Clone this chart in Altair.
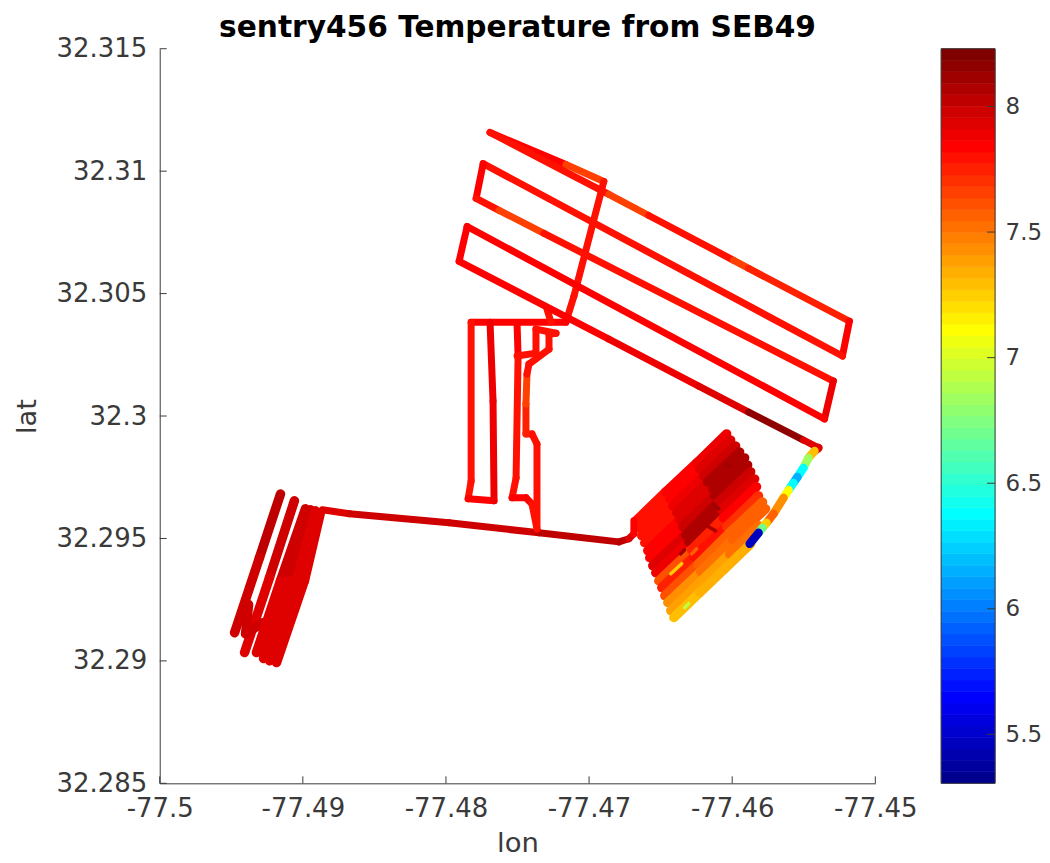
import altair as alt
import numpy as np
import pandas as pd

FONT = "DejaVu Sans"
INK = "#3a3a3a"
T_MIN, T_MAX = 5.305, 8.23

x_ticks = [-77.5, -77.49, -77.48, -77.47, -77.46, -77.45]
y_ticks = [32.285, 32.29, 32.295, 32.3, 32.305, 32.31, 32.315]
bar_ticks = [5.5, 6, 6.5, 7, 7.5, 8]

# survey lawnmower lines (upper right)
survey_lon = [-77.47692, -77.46862, -77.46583, -77.45990, -77.45885, -77.45181, -77.45230, -77.47740, -77.47789, -77.47629,
              -77.47315, -77.45293, -77.45355, -77.47852, -77.47908, -77.46862, -77.46234, -77.45885, -77.45502, -77.45397]
survey_lat = [32.31158, 32.30905, 32.30819, 32.30636, 32.30603, 32.30387, 32.30245, 32.31031, 32.30889, 32.30840,
              32.30746, 32.30143, 32.29988, 32.30774, 32.30632, 32.30314, 32.30122, 32.30016, 32.29902, 32.29870]
survey_temp = [7.8, 7.66, 7.78, 7.64, 7.75, 7.85, 7.8, 7.85, 7.8, 7.66,
               7.78, 7.88, 7.82, 7.85, 7.86, 7.88, 7.92, 8.17, 7.95, 7.9]

# link from the survey to the rectangles
link_lon = [-77.47692, -77.47162, -77.46897, -77.47106, -77.47162, -77.47824, -77.47824, -77.47845, -77.47664, -77.47671, -77.47692]
link_lat = [32.31158, 32.31027, 32.30958, 32.30489, 32.30383, 32.30383, 32.29735, 32.29662, 32.29654, 32.30061, 32.30383]
link_temp = [7.82, 7.65, 7.78, 7.78, 7.85, 7.78, 7.78, 7.85, 7.88, 7.88, 7.88]

second_lon = [-77.47503, -77.47496, -77.47510, -77.47538, -77.47441, -77.47399, -77.47364]
second_lat = [32.30375, 32.30245, 32.29747, 32.29666, 32.29666, 32.29641, 32.29539]
second_temp = [7.82, 7.78, 7.8, 7.82, 7.82, 7.8, 7.8]

hook_lon = [-77.47364, -77.47364, -77.47399, -77.47441, -77.47441, -77.47434, -77.47420, -77.47280, -77.47280, -77.47231,
            -77.47371, -77.47371, -77.47503]
hook_lat = [32.29539, 32.29886, 32.29927, 32.29927, 32.30049, 32.30171, 32.30212, 32.30273, 32.30334, 32.30338,
            32.30355, 32.30257, 32.30245]
hook_temp = [7.8, 7.8, 7.8, 7.75, 7.65, 7.78, 7.78, 7.78, 7.78, 7.8, 7.78, 7.8, 7.8]

spur_lon = [-77.47294, -77.47266]
spur_lat = [32.30436, 32.30383]
spur_temp = [7.8, 7.8]

# dense block, lower right: one list per pass
block_lon = [
    [-77.46673, -77.46464, -77.46248, -77.46039],
    [-77.46652, -77.46436, -77.46227, -77.46011],
    [-77.46632, -77.46415, -77.46199, -77.45976],
    [-77.46611, -77.46387, -77.46171, -77.45948],
    [-77.46590, -77.46367, -77.46136, -77.45913],
    [-77.46576, -77.46346, -77.46123, -77.45892],
    [-77.46555, -77.46325, -77.46102, -77.45871],
    [-77.46534, -77.46304, -77.46074, -77.45843],
    [-77.46513, -77.46283, -77.46060, -77.45830],
    [-77.46492, -77.46269, -77.46039, -77.45816],
    [-77.46471, -77.46241, -77.46018, -77.45788],
    [-77.46450, -77.46220, -77.45997, -77.45767],
    [-77.46429, -77.46227, -77.46018, -77.45816],
    [-77.46408, -77.46227, -77.46053, -77.45871],
]
block_lat = [
    [32.29572, 32.29690, 32.29808, 32.29927],
    [32.29543, 32.29662, 32.29784, 32.29902],
    [32.29511, 32.29633, 32.29755, 32.29878],
    [32.29482, 32.29605, 32.29731, 32.29853],
    [32.29450, 32.29576, 32.29702, 32.29829],
    [32.29421, 32.29548, 32.29674, 32.29800],
    [32.29389, 32.29515, 32.29645, 32.29772],
    [32.29360, 32.29486, 32.29617, 32.29743],
    [32.29327, 32.29454, 32.29584, 32.29711],
    [32.29299, 32.29425, 32.29548, 32.29674],
    [32.29266, 32.29393, 32.29523, 32.29649],
    [32.29238, 32.29364, 32.29495, 32.29621],
    [32.29205, 32.29319, 32.29437, 32.29552],
    [32.29177, 32.29279, 32.29376, 32.29478],
]
block_temp = [
    [7.78, 7.85, 7.9, 7.9],
    [7.78, 7.85, 7.95, 7.95],
    [7.8, 7.88, 8.0, 8.0],
    [7.8, 7.92, 8.05, 8.05],
    [7.85, 7.95, 8.08, 8.08],
    [7.85, 8.0, 8.05, 8.05],
    [7.95, 8.05, 8.0, 8.0],
    [7.9, 8.05, 7.95, 7.95],
    [7.6, 7.75, 7.85, 7.85],
    [7.75, 7.8, 7.72, 7.72],
    [7.6, 7.55, 7.55, 7.55],
    [7.45, 7.5, 7.55, 7.55],
    [7.4, 7.4, 7.5, 7.5],
    [7.3, 7.35, 7.35, 7.35],
]

# short features inside the block
spot_lon = [[-77.46130, -77.46095], [-77.46039, -77.46011], [-77.46360, -77.46332], [-77.46213, -77.46116],
            [-77.46429, -77.46353], [-77.46283, -77.46248], [-77.46332, -77.46304]]
spot_lat = [[32.29641, 32.29621], [32.29804, 32.29792], [32.29437, 32.29454], [32.29564, 32.29531],
            [32.29356, 32.29397], [32.29437, 32.29458], [32.29217, 32.29234]]
spot_temp = [[8.12, 8.12], [8.12, 8.12], [8.1, 8.1], [8.05, 8.05], [7.25, 7.25], [7.55, 7.55], [6.95, 6.95]]

# descent from the survey into the block
descent_lon = [-77.45397, -77.45425, -77.45467, -77.45502, -77.45544, -77.45572, -77.45606, -77.45641, -77.45711, -77.45760,
               -77.45788, -77.45816, -77.45878]
descent_lat = [32.29870, 32.29857, 32.29829, 32.29788, 32.29751, 32.29727, 32.29698, 32.29666, 32.29601, 32.29564,
               32.29543, 32.29523, 32.29478]
descent_temp = [7.95, 7.3, 6.85, 6.4, 6.15, 6.4, 7.1, 7.45, 7.55, 7.25, 6.7, 5.45, 5.45]

# transit between the clusters
transit_lon = [-77.48863, -77.48675, -77.47978, -77.47350, -77.46792, -77.46722, -77.46687, -77.46687]
transit_lat = [32.29617, 32.29601, 32.29564, 32.29523, 32.29486, 32.29499, 32.29519, 32.29572]
transit_temp = [7.92, 7.98, 8.0, 8.02, 8.03, 7.95, 7.85, 7.85]

# western cluster passes
west_lon = [
    [-77.49156, -77.49303, -77.49477],
    [-77.49059, -77.49233, -77.49407],
    [-77.49379, -77.49400, -77.49282],
    [-77.48982, -77.49156, -77.49324],
    [-77.48947, -77.49100, -77.49275],
    [-77.48912, -77.49045, -77.49233],
    [-77.48877, -77.48989, -77.49184],
]
west_lat = [
    [32.29682, 32.29421, 32.29115],
    [32.29654, 32.29340, 32.29034],
    [32.29230, 32.29111, 32.29156],
    [32.29621, 32.29327, 32.29034],
    [32.29617, 32.29327, 32.29010],
    [32.29613, 32.29327, 32.29001],
    [32.29605, 32.29327, 32.28993],
]
west_temp = [
    [8.03, 7.98, 7.98],
    [8.0, 7.95, 7.95],
    [7.98, 7.98, 7.98],
    [7.98, 7.92, 7.92],
    [7.96, 7.93, 7.93],
    [7.95, 7.93, 7.93],
    [7.93, 7.92, 7.92],
]

# MATLAB jet, 64 levels
grid = (np.arange(64) + 1) / 64
channel = lambda c: np.clip(1.5 - np.abs(4 * grid - c), 0, 1)
jet = ["#%02x%02x%02x" % tuple(int(round(v * 255)) for v in rgb)
       for rgb in zip(channel(3), channel(2), channel(1))]
edges = np.linspace(T_MIN, T_MAX, 65)


def segments(lons, lats, temps):
    return [
        {"lon": lons[i], "lat": lats[i], "lon2": lons[i + 1], "lat2": lats[i + 1], "temp": temps[i]}
        for i in range(len(lons) - 1)
    ]


wide_rows = []
for a, b, c in zip(west_lon, west_lat, west_temp):
    wide_rows += segments(a, b, c)
for a, b, c in zip(block_lon, block_lat, block_temp):
    wide_rows += segments(a, b, c)

spot_rows = []
for a, b, c in zip(spot_lon, spot_lat, spot_temp):
    spot_rows += segments(a, b, c)

fine_rows = []
fine_rows += segments(transit_lon, transit_lat, transit_temp)
fine_rows += segments(link_lon, link_lat, link_temp)
fine_rows += segments(second_lon, second_lat, second_temp)
fine_rows += segments(hook_lon, hook_lat, hook_temp)
fine_rows += segments(spur_lon, spur_lat, spur_temp)
fine_rows += segments(survey_lon, survey_lat, survey_temp)

descent_rows = segments(descent_lon, descent_lat, descent_temp)

PW, PH, BW = 717, 736, 54
x_scale = alt.Scale(domain=[-77.5, -77.45], nice=False, zero=False)
y_scale = alt.Scale(domain=[32.285, 32.315], nice=False, zero=False)
c_scale = alt.Scale(type="quantize", domain=[T_MIN, T_MAX], range=jet)
t_scale = alt.Scale(domain=[T_MIN, T_MAX], nice=False, zero=False)

axis_common = dict(
    grid=False, ticks=False, labelFont=FONT, titleFont=FONT, labelColor=INK, titleColor=INK,
    labelFontSize=26, titleFontSize=27.5, titleFontWeight="normal", domainColor=INK, domainWidth=1,
    labelOverlap=False, labelFlush=False, labelBound=False,
)
x_axis = alt.Axis(values=x_ticks, labelExpr="'-' + format(abs(datum.value), '.4~g')",
                  labelPadding=12, titlePadding=8, **axis_common)
y_axis = alt.Axis(values=y_ticks, format=".5~g", labelPadding=13, titlePadding=14, **axis_common)
bar_axis = alt.Axis(orient="right", values=bar_ticks, format="~g", grid=False, ticks=False, domain=False,
                    labelFont=FONT, labelColor=INK, labelFontSize=23, labelPadding=10,
                    labelOverlap=False, labelFlush=False, labelBound=False)


def track_layer(rows, width):
    return alt.Chart(pd.DataFrame(rows)).mark_rule(strokeWidth=width, strokeCap="round").encode(
        x=alt.X("lon:Q", scale=x_scale, title="lon", axis=x_axis),
        x2="lon2:Q",
        y=alt.Y("lat:Q", scale=y_scale, title="lat", axis=y_axis),
        y2="lat2:Q",
        color=alt.Color("temp:Q", scale=c_scale, legend=None),
    )


x_tick_marks = alt.Chart(pd.DataFrame({"v": x_ticks})).mark_rule(color=INK, strokeWidth=1).encode(
    x=alt.X("v:Q", scale=x_scale, title="lon", axis=x_axis), y=alt.value(PH), y2=alt.value(PH - 7))
y_tick_marks = alt.Chart(pd.DataFrame({"v": y_ticks})).mark_rule(color=INK, strokeWidth=1).encode(
    y=alt.Y("v:Q", scale=y_scale, title="lat", axis=y_axis), x=alt.value(0), x2=alt.value(7))

main = alt.layer(track_layer(wide_rows, 9.5), track_layer(spot_rows, 3.5), track_layer(fine_rows, 7),
                 track_layer(descent_rows, 8.5), x_tick_marks, y_tick_marks).properties(
    width=PW, height=PH,
    view=alt.ViewConfig(stroke=None),
    title=alt.TitleParams("sentry456 Temperature from SEB49", font=FONT, fontSize=29.7, fontWeight="bold",
                          color="black", anchor="middle", offset=-8),
)

levels = pd.DataFrame({"lo": edges[:-1], "hi": edges[1:], "mid": (edges[:-1] + edges[1:]) / 2})
bar = alt.Chart(levels).mark_rect(strokeWidth=0.6).encode(
    x=alt.value(0), x2=alt.value(BW),
    y=alt.Y("lo:Q", scale=t_scale, title=None, axis=bar_axis),
    y2="hi:Q",
    color=alt.Color("mid:Q", scale=c_scale, legend=None),
    stroke=alt.Stroke("mid:Q", scale=c_scale, legend=None),
)
bar_tick_marks = alt.Chart(pd.DataFrame({"v": bar_ticks})).mark_rule(color=INK, strokeWidth=1).encode(
    y=alt.Y("v:Q", scale=t_scale, title=None, axis=bar_axis), x=alt.value(BW - 8), x2=alt.value(BW))
bar_frame = alt.Chart(pd.DataFrame({"a": [0]})).mark_rect(filled=False, stroke=INK, strokeWidth=1).encode(
    x=alt.value(0), x2=alt.value(BW), y=alt.value(0), y2=alt.value(PH))
colorbar = alt.layer(bar, bar_tick_marks, bar_frame).properties(
    width=BW, height=PH, view=alt.ViewConfig(stroke=None))

chart = alt.hconcat(main, colorbar, spacing=23).resolve_scale(
    color="independent", stroke="independent"
).properties(padding={"left": 6, "top": 4, "right": 0, "bottom": -2}, background="white")

chart.save("out.html", embed_options={"renderer": "svg", "actions": False})
